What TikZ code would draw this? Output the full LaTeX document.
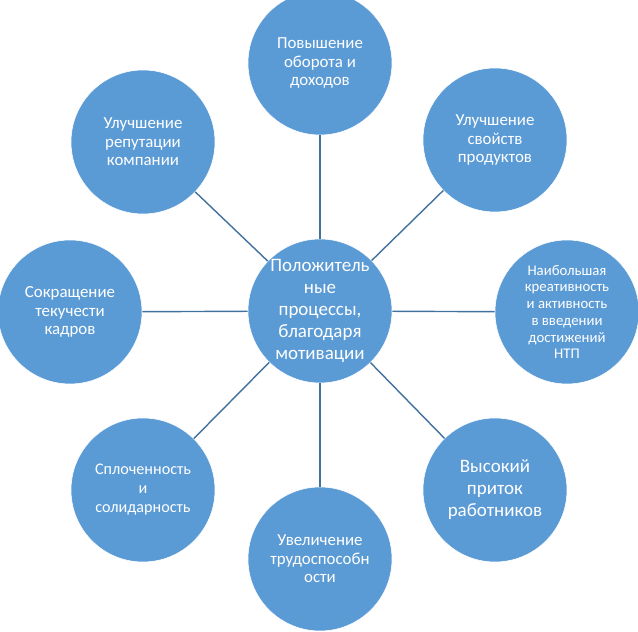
\documentclass[tikz,border=0pt]{standalone}
\usepackage{fontspec}
\setmainfont{Carlito}
\definecolor{bubble}{HTML}{5B9BD5}
\definecolor{spoke}{HTML}{41719C}
\begin{document}
\begin{tikzpicture}[every node/.style={circle, fill=bubble, draw=white, thin, minimum size=3.6cm, inner sep=0pt, align=center, text=white, font=\fontsize{12}{13.2}\selectfont}]
        \useasboundingbox (-8, -8.025) rectangle (7.95, 7.775);
        \node[font=\fontsize{13.5}{15.6}\selectfont] (c) at (0, 0) {Положитель\\ные\\процессы,\\благодаря\\мотивации};
        \node (1) at (0, 6.2) {Повышение\\оборота и\\доходов};
        \node (2) at (4.375, 4.275) {Улучшение\\свойств\\продуктов};
        \node[font=\fontsize{10.5}{11.9}\selectfont] (3) at (6.175, -0.025) {Наибольшая\\креативность\\и активность\\в введении\\достижений\\НТП};
        \node[font=\fontsize{13.5}{15.6}\selectfont] (4) at (4.375, -4.475) {Высокий\\приток\\работников};
        \node (5) at (0, -6.2) {Увеличение\\трудоспособн\\ости};
        \node[font=\fontsize{11.5}{13.5}\selectfont] (6) at (-4.425, -4.475) {Сплоченность\\и\\солидарность};
        \node (7) at (-6.25, -0.025) {Сокращение\\текучести\\кадров};
        \node (8) at (-4.425, 4.225) {Улучшение\\репутации\\компании};
        \draw[spoke, line width=1pt] (1) -- (c);
        \draw[spoke, line width=1pt] (2) -- (c);
        \draw[spoke, line width=1pt] (3) -- (c);
        \draw[spoke, line width=1pt] (4) -- (c);
        \draw[spoke, line width=1pt] (5) -- (c);
        \draw[spoke, line width=1pt] (6) -- (c);
        \draw[spoke, line width=1pt] (7) -- (c);
        \draw[spoke, line width=1pt] (8) -- (c);
    \end{tikzpicture}
\end{document}
